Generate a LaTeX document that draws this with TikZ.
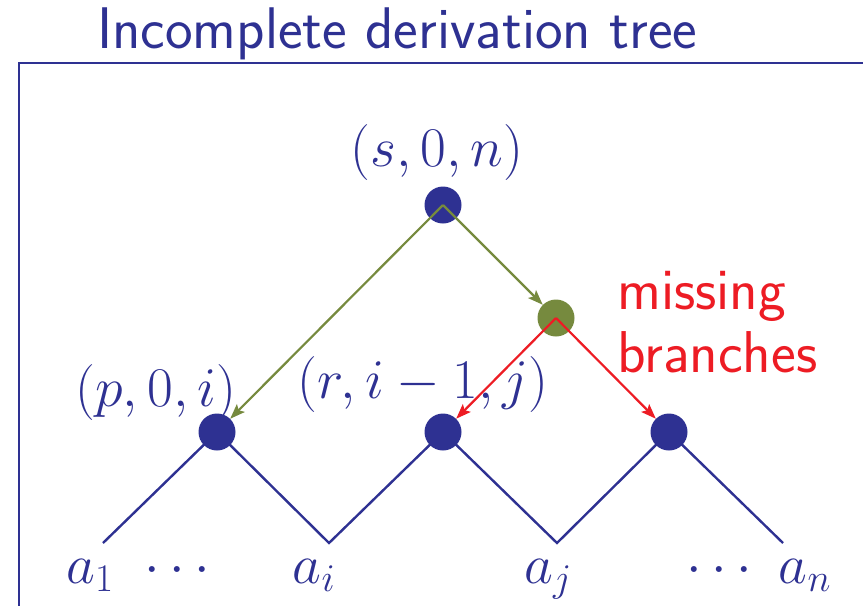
\RequirePackage{fix-cm}
\documentclass[tikz,border=0pt]{standalone}
\usepackage{fontspec}
\usetikzlibrary{arrows.meta}
\definecolor{tblue}{HTML}{2E3192}
\definecolor{tgreen}{HTML}{768A3E}
\definecolor{tred}{HTML}{ED1C24}
\begin{document}
\begin{tikzpicture}[x=1pt,y=-1pt,
  dot/.style={circle,fill=#1,minimum size=37pt,inner sep=0pt},
  treeline/.style={draw=tblue,line width=2.4pt},
  garrow/.style={draw=tgreen,line width=2.2pt,-{Stealth[length=15pt,width=11pt,inset=3pt]}},
  rarrow/.style={draw=tred,line width=2.2pt,-{Stealth[length=15pt,width=11pt,inset=3pt]}},
  mlabel/.style={text=tblue,font=\fontsize{56}{62}\selectfont},
  ]
\useasboundingbox (0,0) rectangle (863,606);
% frame
\draw[tblue,line width=2.4pt] (863,63) -- (19,63) -- (19,606);
\node[anchor=base west,text=tblue,font=\sffamily\fontsize{58.7}{64}\selectfont,inner sep=0pt] (title) at (97,48) {Incomplete derivation tree};
% leaf ends
\coordinate (l1) at (103,543);
\coordinate (l2) at (329,543);
\coordinate (l3) at (557,543);
\coordinate (l4) at (783,543);
% lower node positions
\coordinate (pc) at (217,432);
\coordinate (rc) at (443,432);
\coordinate (tc) at (669,432);
\draw[treeline] (l1) -- (pc) -- (l2) -- (rc) -- (l3) -- (tc) -- (l4);
\node[dot=tblue] (s) at (443,205) {};
\node[dot=tgreen] (m) at (556,318) {};
\node[dot=tblue] (p) at (pc) {};
\node[dot=tblue] (r) at (rc) {};
\node[dot=tblue] (t) at (tc) {};
\draw[garrow] (s.center) -- (p);
\draw[garrow] (s.center) -- (m);
\draw[rarrow] (m.center) -- (r);
\draw[rarrow] (m.center) -- (t);
% labels
\node[mlabel,anchor=base] (sl) at (437,166) {$(s,0,n)$};
\node[mlabel,anchor=base] (pl) at (156,406) {$(p,0,i)$};
\node[mlabel,anchor=base] (rl) at (423,398) {$(r,i-1,j)$};
\node[text=tred,font=\sffamily\fontsize{59}{63}\selectfont,align=left,anchor=base west,inner sep=0pt] (mb) at (617,372) {missing\\branches};
\node[mlabel,anchor=base] (a1) at (90,583) {$a_1$};
\node[mlabel,anchor=base] (d1) at (177,583) {$\cdots$};
\node[mlabel,anchor=base] (ai) at (314,583) {$a_i$};
\node[mlabel,anchor=base] (aj) at (548,583) {$a_j$};
\node[mlabel,anchor=base] (d2) at (719,583) {$\cdots$};
\node[mlabel,anchor=base] (an) at (805,583) {$a_n$};
\end{tikzpicture}
\end{document}
